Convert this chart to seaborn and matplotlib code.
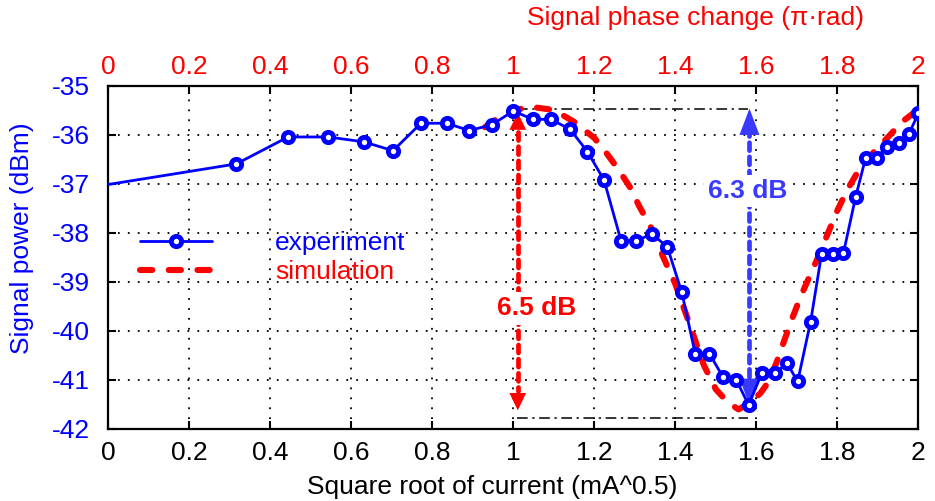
import matplotlib
matplotlib.use("Agg")
import matplotlib.pyplot as plt
import seaborn as sns
import pandas as pd

# ---------------- data ----------------
exp_x = [0.0, 0.316, 0.444, 0.543, 0.631, 0.703, 0.772, 0.836, 0.891, 0.947, 1.000,
         1.048, 1.092, 1.140, 1.183, 1.224, 1.266, 1.303, 1.342, 1.380, 1.416,
         1.449, 1.484, 1.517, 1.550, 1.581, 1.614, 1.646, 1.676, 1.702, 1.734,
         1.761, 1.789, 1.815, 1.845, 1.870, 1.897, 1.923, 1.951, 1.977, 2.000]
exp_y = [-37.02, -36.6, -36.05, -36.05, -36.15, -36.33, -35.77, -35.77, -35.92, -35.8, -35.52,
         -35.69, -35.69, -35.89, -36.35, -36.93, -38.17, -38.17, -38.03, -38.29, -39.22,
         -40.47, -40.47, -40.94, -41.0, -41.52, -40.86, -40.87, -40.67, -41.04, -39.82,
         -38.44, -38.44, -38.42, -37.28, -36.47, -36.47, -36.25, -36.18, -35.98, -35.57]

sim_x = [0.93, 0.98, 1.04, 1.10, 1.15, 1.20, 1.23, 1.26, 1.29, 1.31, 1.34, 1.37, 1.40,
         1.43, 1.47, 1.50, 1.53, 1.556, 1.585, 1.61, 1.63, 1.65, 1.67, 1.69, 1.71,
         1.73, 1.75, 1.77, 1.80, 1.825, 1.855, 1.89, 1.93, 1.96, 1.99]
sim_y = [-35.85, -35.56, -35.43, -35.5, -35.74, -36.07, -36.38, -36.72, -37.1, -37.45,
         -37.9, -38.5, -39.05, -39.75, -40.7, -41.2, -41.47, -41.61, -41.47, -41.28,
         -41.05, -40.65, -40.18, -39.72, -39.3, -38.92, -38.55, -38.15, -37.55, -37.12,
         -36.7, -36.36, -36.01, -35.74, -35.55]

x_ticks = [0, 0.2, 0.4, 0.6, 0.8, 1, 1.2, 1.4, 1.6, 1.8, 2]
x_ticklabels = ["0", "0.2", "0.4", "0.6", "0.8", "1", "1.2", "1.4", "1.6", "1.8", "2"]
y_ticks = [-42, -41, -40, -39, -38, -37, -36, -35]

# annotation levels (dB)
ref_top = -35.47
ref_bottom = -41.79
blue_arrow_x, blue_top, blue_bottom = 1.583, -35.47, -41.52
red_arrow_x, red_top, red_bottom = 1.011, -35.55, -41.63
ref_x0, ref_x1 = 1.01, 1.58

BLUE = "#0000ff"
RED = "#ff0000"
ABLUE = "#3a3aff"

# ---------------- style ----------------
sns.set_theme(style="white")
plt.rcParams["font.family"] = ["Liberation Sans", "DejaVu Sans"]
plt.rcParams["axes.unicode_minus"] = False
FS = 19

fig = plt.figure(figsize=(9.35, 5.01), dpi=100)
ax = fig.add_axes([0.1158, 0.1447, 0.8664, 0.6846])

df_exp = pd.DataFrame({"x": exp_x, "y": exp_y})
df_sim = pd.DataFrame({"x": sim_x, "y": sim_y})

# simulation (behind)
sns.lineplot(data=df_sim, x="x", y="y", ax=ax, color=RED, lw=4.4,
             label="simulation", zorder=3, sort=False)
sim_line = ax.lines[-1]
sim_line.set_dashes((2.0, 2.7))
sim_line.set_dash_capstyle("round")

# reference dash-dot lines
ax.plot([ref_x0, ref_x1], [ref_top, ref_top], color="black", lw=1.1,
        ls=(0, (7, 3, 1.5, 3)), zorder=2)
ax.plot([ref_x0, ref_x1], [ref_bottom, ref_bottom], color="black", lw=1.1,
        ls=(0, (7, 3, 1.5, 3)), zorder=2)

# double arrows: dotted shafts + filled heads
def double_arrow(x, y_top, y_bot, color, head_len_pts, head_w_pts, z):
    line, = ax.plot([x, x], [y_top - 0.4, y_bot + 0.4], color=color, lw=3.4,
                    ls=(0, (1.7, 1.3)), zorder=z)
    line.set_dash_capstyle("round")
    for tip, base in ((y_top, y_top - 1.2), (y_bot, y_bot + 1.2)):
        ax.annotate("", xy=(x, tip), xytext=(x, base),
                    arrowprops=dict(arrowstyle=f"-|>,head_length={head_len_pts/10},head_width={head_w_pts/10}",
                                    color=color, lw=0, shrinkA=0, shrinkB=0,
                                    mutation_scale=10),
                    zorder=z)

double_arrow(red_arrow_x, red_top, red_bottom, RED, 12.5, 6.0, 2.5)
double_arrow(blue_arrow_x, blue_top, blue_bottom, ABLUE, 19, 7.2, 2.6)

ax.text(blue_arrow_x - 0.005, -37.15, "6.3 dB", color=ABLUE, fontsize=FS,
        fontweight="bold", ha="center", va="center", zorder=4,
        bbox=dict(facecolor="white", edgecolor="none", pad=3))
ax.text(1.058, -39.55, "6.5 dB", color=RED, fontsize=FS,
        fontweight="bold", ha="center", va="center", zorder=4,
        bbox=dict(facecolor="white", edgecolor="none", pad=3))

# experiment (on top)
sns.lineplot(data=df_exp, x="x", y="y", ax=ax, color=BLUE, lw=2.0,
             marker="o", markersize=7.4, markeredgewidth=3.5,
             markerfacecolor="white", markeredgecolor=BLUE,
             markevery=list(range(1, len(exp_x))),
             label="experiment", zorder=5, sort=False)

# ---------------- axes ----------------
ax.set_xlim(0, 2)
ax.set_ylim(-42, -35)
ax.set_xticks(x_ticks)
ax.set_xticklabels(x_ticklabels)
ax.set_yticks(y_ticks)
ax.grid(True, color="black", lw=1.3, ls=(0, (1, 4.5)))
ax.set_axisbelow(True)
for s in ax.spines.values():
    s.set_color("black")
    s.set_linewidth(1.6)

ax.tick_params(axis="x", which="both", direction="in", length=6, width=1.5,
               labelsize=FS, colors="black", pad=9, bottom=True, top=False)
ax.tick_params(axis="y", which="both", direction="in", length=6, width=1.5,
               labelsize=FS, labelcolor=BLUE, color="black", pad=13,
               left=True, right=True)

ax.set_xlabel("Square root of current (mA^0.5)", fontsize=FS, color="black")
ax.xaxis.set_label_coords(0.4737, -0.1706)
ax.xaxis.label.set_va("center")
ax.set_ylabel("Signal power (dBm)", fontsize=FS, color=BLUE)
ax.yaxis.set_label_coords(-0.1065, 0.5554)
ax.yaxis.label.set_va("center")

# top axis (phase)
ax2 = ax.twiny()
ax2.set_xlim(0, 2)
ax2.set_xticks(x_ticks)
ax2.set_xticklabels(x_ticklabels)
ax2.tick_params(axis="x", direction="in", length=6, width=1.5, labelsize=FS,
                labelcolor=RED, color="black", pad=5)
ax2.grid(False)
for s in ax2.spines.values():
    s.set_visible(False)
ax2.set_xlabel("Signal phase change (\u03c0\u00b7rad)", fontsize=FS, color=RED)
ax2.xaxis.set_label_coords(0.7243, 1.1968)
ax2.xaxis.label.set_va("center")

# legend
h, l = ax.get_legend_handles_labels()
order = [l.index("experiment"), l.index("simulation")]
leg = ax.legend([h[i] for i in order], [l[i] for i in order],
                loc="center left", bbox_to_anchor=(0.039, 0.4986),
                frameon=False, fontsize=FS, handlelength=2.73, handletextpad=2.4,
                labelspacing=0.2, borderpad=0, borderaxespad=0, numpoints=1,
                labelcolor=[BLUE, RED])

fig.savefig("out.png", dpi=100)
